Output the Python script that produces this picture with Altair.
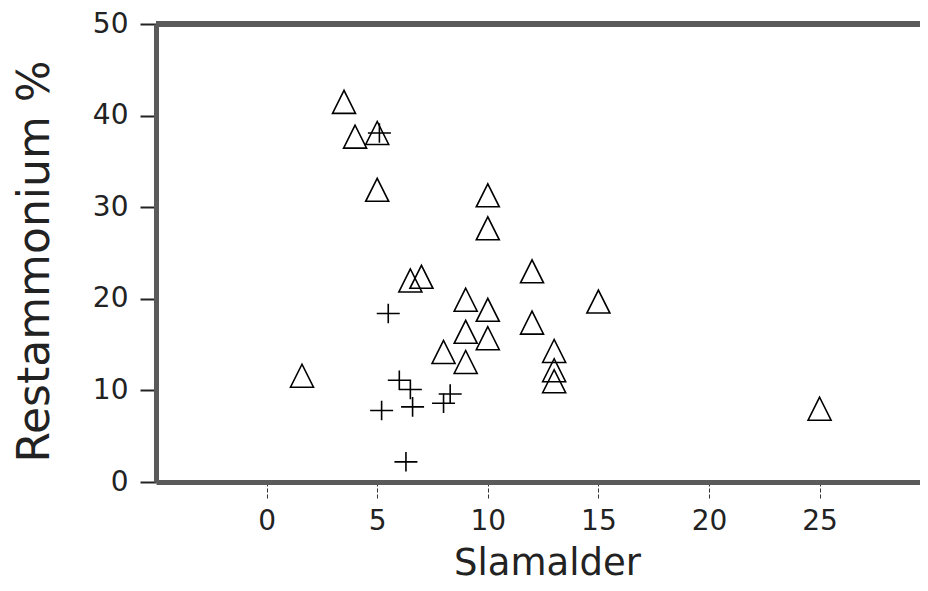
import altair as alt
import pandas as pd

# Triangles (open)
tri_x = [1.6, 3.5, 4.0, 5.0, 5.0, 6.5, 7.0, 8.0, 9.0, 9.0, 9.0, 10.0, 10.0, 10.0, 10.0, 12.0, 12.0, 13.0, 13.0, 13.0, 15.0, 25.0]
tri_y = [11.6, 41.5, 37.7, 38.1, 31.9, 22.0, 22.4, 14.2, 19.9, 16.4, 13.1, 31.3, 27.7, 18.8, 15.7, 23.0, 17.4, 14.3, 12.2, 11.0, 19.7, 8.0]

# Plus signs
plus_x = [5.1, 5.5, 6.0, 6.5, 6.6, 5.2, 8.3, 8.0, 6.3]
plus_y = [38.1, 18.4, 11.1, 10.1, 8.2, 7.8, 9.6, 8.6, 2.2]

x_ticks = [0, 5, 10, 15, 20, 25]
y_ticks = [0, 10, 20, 30, 40, 50]

FONT = "DejaVu Sans"
INK = "#222222"
BORDER = "#5a5a5a"
W, H = 764, 458

tri_df = pd.DataFrame({"Slamalder": tri_x, "Restammonium": tri_y})
plus_df = pd.DataFrame({"Slamalder": plus_x, "Restammonium": plus_y})

xscale = alt.Scale(domain=[-5, 29.54], nice=False, zero=False)
yscale = alt.Scale(domain=[0, 50], nice=False)

xaxis = alt.Axis(
    values=x_ticks, format="d", grid=False,
    tickSize=16, tickWidth=1, tickColor="#333333", tickDash=[4, 2],
    domainColor=BORDER, domainWidth=5,
    labelFont=FONT, labelFontSize=28, labelColor=INK, labelPadding=9,
    title="Slamalder", titleFont=FONT, titleFontSize=37, titleFontWeight="normal",
    titleColor=INK, titleBaseline="alphabetic", titleX=391, titleY=92,
)
yaxis = alt.Axis(
    values=y_ticks, format="d", grid=False,
    tickSize=16, tickWidth=2, tickColor=INK,
    domainColor=BORDER, domainWidth=5,
    labelFont=FONT, labelFontSize=28, labelColor=INK, labelPadding=12,
    title="Restammonium  %", titleFont=FONT, titleFontSize=44, titleFontWeight="normal",
    titleColor=INK, titleAngle=-90, titleAlign="center", titleBaseline="alphabetic",
    titleX=-108, titleY=237,
)

tri = alt.Chart(tri_df).mark_point(
    shape="M0,-1L-1,1L1,1Z", filled=False, stroke="black", strokeWidth=1.6, size=529, opacity=1
).encode(
    x=alt.X("Slamalder:Q", scale=xscale, axis=xaxis),
    y=alt.Y("Restammonium:Q", scale=yscale, axis=yaxis),
)

plus = alt.Chart(plus_df).mark_point(
    shape="M-1,0L1,0M0,-0.85L0,0.85", filled=False, stroke="black", strokeWidth=1.6, size=529, opacity=1
).encode(
    x=alt.X("Slamalder:Q", scale=xscale),
    y=alt.Y("Restammonium:Q", scale=yscale),
)

top_border = alt.Chart(pd.DataFrame({"a": [0]})).mark_rule(
    color=BORDER, strokeWidth=6
).encode(x=alt.value(0), x2=alt.value(W), y=alt.value(0))

chart = alt.layer(tri, plus, top_border).properties(
    width=W, height=H,
    autosize=alt.AutoSizeParams(type="none"),
    padding={"left": 148, "right": 0, "top": 16, "bottom": 101},
    background="white",
).configure_view(stroke=None)

chart.save("out.html", embed_options={"renderer": "svg", "actions": False})
